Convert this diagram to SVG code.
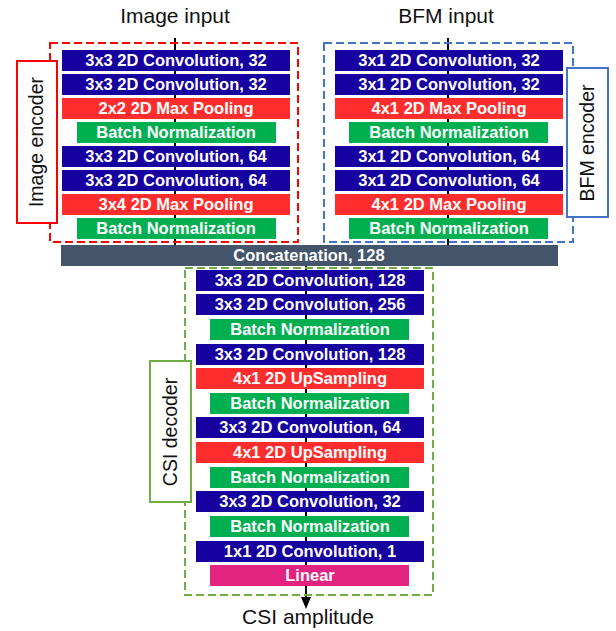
<svg xmlns="http://www.w3.org/2000/svg" width="616" height="631" viewBox="0 0 616 631">
<style>
.conv{fill:#1700A0}
.pool{fill:#FF2D2D}
.bn{fill:#00B050}
.lin{fill:#E2237F}
.cat{fill:#44546A}
.t{font-family:"Liberation Sans",Arial,sans-serif;font-size:16.5px;font-weight:bold;fill:#fff;text-anchor:middle}
.lbl{font-family:"Liberation Sans",Arial,sans-serif;font-size:21px;fill:#111;text-anchor:middle}
.side{font-family:"Liberation Sans",Arial,sans-serif;font-size:19.5px;fill:#111;text-anchor:middle}
.dash{fill:none;stroke-width:2;stroke-dasharray:8 4}
.edge{stroke:#000;stroke-width:2;fill:none}
</style>
<defs>
<marker id="arr" markerWidth="12" markerHeight="10" refX="10" refY="5" orient="auto" markerUnits="userSpaceOnUse">
<path d="M0,0 L12,5 L0,10 Z" fill="#000"/>
</marker>
</defs>
<rect width="616" height="631" fill="#fff"/>

<g id="connectors">
<line class="edge" x1="175" y1="38" x2="175" y2="245"/>
<line class="edge" x1="448" y1="38" x2="448" y2="245"/>
<line class="edge" x1="306" y1="266" x2="306" y2="607" marker-end="url(#arr)"/>
</g>

<g id="labels">
<text class="lbl" x="175" y="23">Image input</text>
<text class="lbl" x="446" y="23">BFM input</text>
<text class="lbl" x="308" y="624">CSI amplitude</text>
</g>

<g id="image-encoder">
<rect class="dash" x="50" y="43" width="248" height="199" stroke="#FF0000"/>
<g id="img-label">
<rect x="17" y="61" width="40" height="162" fill="#fff" stroke="#FF0000" stroke-width="2"/>
<text class="side" transform="translate(43,142) rotate(-90)">Image encoder</text>
</g>
<g id="img1"><rect class="conv" x="62" y="50" width="228" height="21"/><text class="t" x="176" y="65.5">3x3 2D Convolution, 32</text></g>
<g id="img2"><rect class="conv" x="62" y="74" width="228" height="21"/><text class="t" x="176" y="89.5">3x3 2D Convolution, 32</text></g>
<g id="img3"><rect class="pool" x="62" y="98" width="228" height="21"/><text class="t" x="176" y="113.5">2x2 2D Max Pooling</text></g>
<g id="img4"><rect class="bn" x="77" y="122" width="199" height="21"/><text class="t" x="176" y="137.5">Batch Normalization</text></g>
<g id="img5"><rect class="conv" x="62" y="146" width="228" height="21"/><text class="t" x="176" y="161.5">3x3 2D Convolution, 64</text></g>
<g id="img6"><rect class="conv" x="62" y="170" width="228" height="21"/><text class="t" x="176" y="185.5">3x3 2D Convolution, 64</text></g>
<g id="img7"><rect class="pool" x="62" y="194" width="228" height="21"/><text class="t" x="176" y="209.5">3x4 2D Max Pooling</text></g>
<g id="img8"><rect class="bn" x="77" y="218" width="199" height="21"/><text class="t" x="176" y="233.5">Batch Normalization</text></g>
</g>

<g id="bfm-encoder">
<rect class="dash" x="324" y="43" width="249" height="199" stroke="#4472C4"/>
<g id="bfm-label">
<rect x="567" y="68" width="41" height="149" fill="#fff" stroke="#4472C4" stroke-width="2"/>
<text class="side" transform="translate(594,143) rotate(-90)">BFM encoder</text>
</g>
<g id="bfm1"><rect class="conv" x="335" y="50" width="228" height="21"/><text class="t" x="449" y="65.5">3x1 2D Convolution, 32</text></g>
<g id="bfm2"><rect class="conv" x="335" y="74" width="228" height="21"/><text class="t" x="449" y="89.5">3x1 2D Convolution, 32</text></g>
<g id="bfm3"><rect class="pool" x="335" y="98" width="228" height="21"/><text class="t" x="449" y="113.5">4x1 2D Max Pooling</text></g>
<g id="bfm4"><rect class="bn" x="349" y="122" width="199" height="21"/><text class="t" x="449" y="137.5">Batch Normalization</text></g>
<g id="bfm5"><rect class="conv" x="335" y="146" width="228" height="21"/><text class="t" x="449" y="161.5">3x1 2D Convolution, 64</text></g>
<g id="bfm6"><rect class="conv" x="335" y="170" width="228" height="21"/><text class="t" x="449" y="185.5">3x1 2D Convolution, 64</text></g>
<g id="bfm7"><rect class="pool" x="335" y="194" width="228" height="21"/><text class="t" x="449" y="209.5">4x1 2D Max Pooling</text></g>
<g id="bfm8"><rect class="bn" x="349" y="218" width="199" height="21"/><text class="t" x="449" y="233.5">Batch Normalization</text></g>
</g>

<g id="concat"><rect class="cat" x="61" y="245" width="497" height="21"/><text class="t" x="309" y="260.5">Concatenation, 128</text></g>

<g id="csi-decoder">
<rect class="dash" x="185" y="268" width="248" height="327" stroke="#70AD47"/>
<g id="csi-label">
<rect x="150" y="361" width="41" height="141" fill="#fff" stroke="#70AD47" stroke-width="2"/>
<text class="side" transform="translate(177,432) rotate(-90)">CSI decoder</text>
</g>
<g id="dec1"><rect class="conv" x="196" y="270" width="228" height="21"/><text class="t" x="310" y="285.5">3x3 2D Convolution, 128</text></g>
<g id="dec2"><rect class="conv" x="196" y="294" width="228" height="21"/><text class="t" x="310" y="309.5">3x3 2D Convolution, 256</text></g>
<g id="dec3"><rect class="bn" x="210" y="319" width="199" height="21"/><text class="t" x="310" y="334.5">Batch Normalization</text></g>
<g id="dec4"><rect class="conv" x="196" y="344" width="228" height="21"/><text class="t" x="310" y="359.5">3x3 2D Convolution, 128</text></g>
<g id="dec5"><rect class="pool" x="196" y="368" width="228" height="21"/><text class="t" x="310" y="383.5">4x1 2D UpSampling</text></g>
<g id="dec6"><rect class="bn" x="210" y="393" width="199" height="21"/><text class="t" x="310" y="408.5">Batch Normalization</text></g>
<g id="dec7"><rect class="conv" x="196" y="417" width="228" height="21"/><text class="t" x="310" y="432.5">3x3 2D Convolution, 64</text></g>
<g id="dec8"><rect class="pool" x="196" y="442" width="228" height="21"/><text class="t" x="310" y="457.5">4x1 2D UpSampling</text></g>
<g id="dec9"><rect class="bn" x="210" y="467" width="199" height="21"/><text class="t" x="310" y="482.5">Batch Normalization</text></g>
<g id="dec10"><rect class="conv" x="196" y="491" width="228" height="21"/><text class="t" x="310" y="506.5">3x3 2D Convolution, 32</text></g>
<g id="dec11"><rect class="bn" x="210" y="516" width="199" height="21"/><text class="t" x="310" y="531.5">Batch Normalization</text></g>
<g id="dec12"><rect class="conv" x="196" y="541" width="228" height="21"/><text class="t" x="310" y="556.5">1x1 2D Convolution, 1</text></g>
<g id="dec13"><rect class="lin" x="210" y="565" width="199" height="21"/><text class="t" x="310" y="580.5">Linear</text></g>
</g>
</svg>
